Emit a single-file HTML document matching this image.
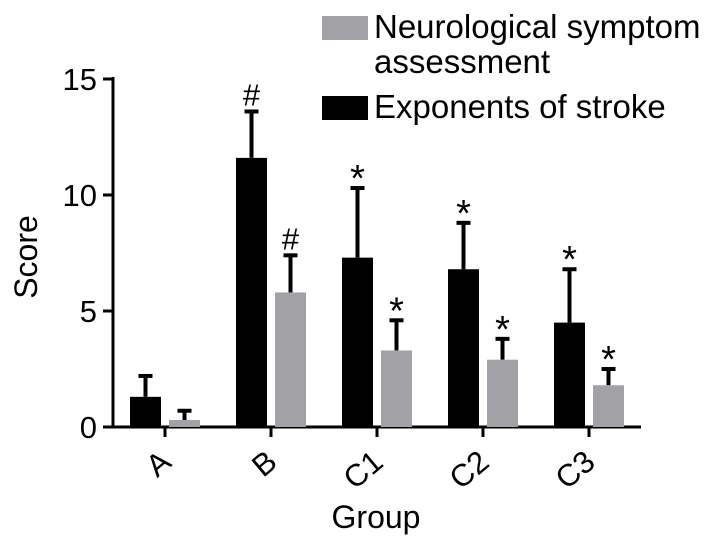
<!DOCTYPE html>
<html><head><meta charset="utf-8"><style>
body{margin:0;background:#fff;}
svg text{font-family:"Liberation Sans",Arial,sans-serif;fill:#000;}
</style></head><body>
<svg id="chart" width="728" height="547" viewBox="0 0 728 547">
</svg>
<script>
const categories=["A","B","C1","C2","C3"];
const strokeVals=[1.3,11.6,7.3,6.8,4.5];
const strokeErr=[0.9,2.0,3.0,2.0,2.3];
const neuroVals=[0.3,5.8,3.3,2.9,1.8];
const neuroErr=[0.4,1.6,1.3,0.9,0.7];
const strokeMarks=["","#","*","*","*"];
const neuroMarks=["","#","*","*","*"];
const yTicks=[0,5,10,15];

const svg=document.getElementById('chart');
const NS="http://www.w3.org/2000/svg";
const y0=427,yTop=79,yMax=15;
function y(v){return y0-(v/yMax)*(y0-yTop);}
function xc(i){return 165+i*106;}
function mk(tag,attrs,parent){const e=document.createElementNS(NS,tag);for(const k in attrs)e.setAttribute(k,attrs[k]);(parent||svg).appendChild(e);return e;}

let ax=mk('line',{x1:113,y1:y0,x2:113,y2:yTop-2,stroke:'#000','stroke-width':3});


let xa=mk('line',{x1:103,y1:y0,x2:641,y2:y0,stroke:'#000','stroke-width':3});


yTicks.forEach(t=>{
  let l=mk('line',{x1:103,y1:y(t),x2:113,y2:y(t),stroke:'#000','stroke-width':3});
  
  
  let tx=mk('text',{x:97,y:y(t)+11,'text-anchor':'end','font-size':31});
  tx.textContent=t;
  
  
});
let yt=mk('text',{x:0,y:0,'text-anchor':'middle','font-size':32,transform:'translate(37,257) rotate(-90)'});
yt.textContent='Score';


let xt=mk('text',{x:376,y:528,'text-anchor':'middle','font-size':32});
xt.textContent='Group';



function bar(x,v,e,color,mark,name){
  const top=y(v),et=y(v+e),cx=x+15.5;
  let eb=mk('line',{x1:cx,y1:top,x2:cx,y2:et,stroke:'#000','stroke-width':4});
  
  
  let cap=mk('line',{x1:cx-7,y1:et,x2:cx+7,y2:et,stroke:'#000','stroke-width':4});
  
  
  let r=mk('rect',{x:x,y:top,width:31,height:y0-top,fill:color});
  
  
  if(mark){
    let t=mk('text',{x:cx,y:mark==='*'?et+3:et-6,'text-anchor':'middle','font-size':mark==='*'?38:31});
    t.textContent=mark;
    
    
  }
}
categories.forEach((c,i)=>{
  const cx=xc(i);
  bar(cx-35,strokeVals[i],strokeErr[i],'#000',strokeMarks[i],'bar-stroke-'+c);
  bar(cx+4,neuroVals[i],neuroErr[i],'#a2a1a5',neuroMarks[i],'bar-neuro-'+c);
  let tk=mk('line',{x1:cx,y1:y0,x2:cx,y2:y0+10,stroke:'#000','stroke-width':3});
  
  
  let lb=mk('text',{x:0,y:0,'text-anchor':'end','font-size':31,transform:`translate(${cx+8},${y0+38}) rotate(-40)`});
  lb.textContent=c;
  
  
});

let lg=mk('g',{});


let s1=mk('rect',{x:322,y:16,width:46,height:24,fill:'#a2a1a5'},lg);


let t1=mk('text',{x:374,y:38,'font-size':33},lg);
t1.textContent='Neurological symptom';


let t1b=mk('text',{x:374,y:73,'font-size':33},lg);
t1b.textContent='assessment';


let s2=mk('rect',{x:322,y:96,width:46,height:24,fill:'#000'},lg);


let t2=mk('text',{x:374,y:118,'font-size':33},lg);
t2.textContent='Exponents of stroke';


</script>
</body></html>
